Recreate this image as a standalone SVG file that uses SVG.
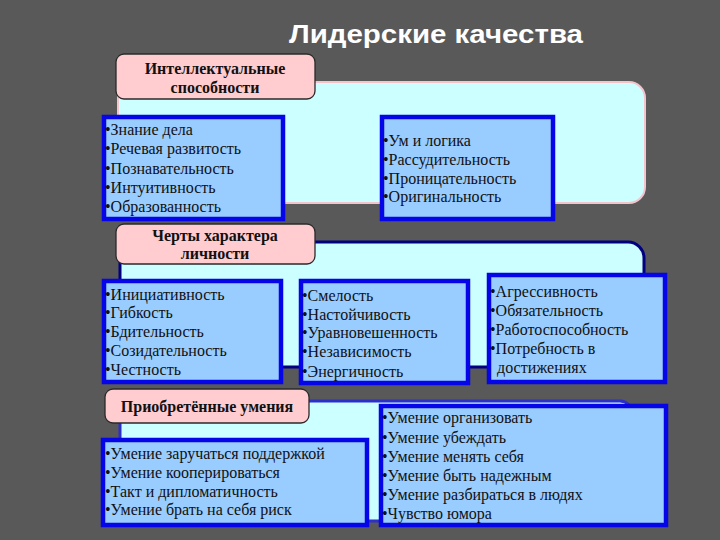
<svg xmlns="http://www.w3.org/2000/svg" width="720" height="540" viewBox="0 0 720 540">
<style>
.bg{fill:#595959}
.panel{fill:#CCFFFF}
.lbl{fill:#FFCCD0;stroke:#2a2a2a;stroke-width:1.3}
.box{fill:#99CCFF;stroke:#0505E8;stroke-width:4.5}
.lt{font-family:"Liberation Serif","Times New Roman",serif;font-weight:bold;font-size:16px;fill:#111;text-anchor:middle}
.bt{font-family:"Liberation Serif","Times New Roman",serif;font-size:16px;fill:#111}
.title{font-family:"Liberation Sans",Arial,sans-serif;font-weight:bold;font-size:26px;fill:#fff}
</style>
<rect class="bg" x="0" y="0" width="720" height="540"/>
<text class="title" x="289" y="43" textLength="294" lengthAdjust="spacingAndGlyphs">Лидерские качества</text>

<g id="section1">
  <rect class="panel" x="118" y="82" width="527" height="121" rx="16" stroke="#F2C4CC" stroke-width="2"/>
</g>
<g id="label1">
  <rect class="lbl" x="116" y="54" width="199" height="45" rx="8"/>
  <text class="lt" x="215" y="74">Интеллектуальные</text>
  <text class="lt" x="215" y="93">способности</text>
</g>
<g id="box1a">
  <rect class="box" x="104" y="117" width="179" height="102"/>
  <text class="bt" x="105" y="135">•Знание дела</text>
  <text class="bt" x="105" y="154">•Речевая развитость</text>
  <text class="bt" x="105" y="174">•Познавательность</text>
  <text class="bt" x="105" y="193">•Интуитивность</text>
  <text class="bt" x="105" y="212">•Образованность</text>
</g>
<g id="box1b">
  <rect class="box" x="382" y="117" width="171" height="102"/>
  <text class="bt" x="383" y="146">•Ум и логика</text>
  <text class="bt" x="383" y="165">•Рассудительность</text>
  <text class="bt" x="383" y="184">•Проницательность</text>
  <text class="bt" x="383" y="202">•Оригинальность</text>
</g>

<g id="section2">
  <rect class="panel" x="120" y="242" width="524" height="125" rx="16" stroke="#000080" stroke-width="3"/>
</g>
<g id="label2">
  <rect class="lbl" x="116" y="224" width="199" height="40" rx="8"/>
  <text class="lt" x="215" y="241">Черты характера</text>
  <text class="lt" x="215" y="259">личности</text>
</g>
<g id="box2a">
  <rect class="box" x="104" y="281" width="177" height="101"/>
  <text class="bt" x="105" y="300">•Инициативность</text>
  <text class="bt" x="105" y="318">•Гибкость</text>
  <text class="bt" x="105" y="337">•Бдительность</text>
  <text class="bt" x="105" y="356">•Созидательность</text>
  <text class="bt" x="105" y="375">•Честность</text>
</g>
<g id="box2b">
  <rect class="box" x="301" y="281" width="167" height="102"/>
  <text class="bt" x="302" y="301">•Смелость</text>
  <text class="bt" x="302" y="320">•Настойчивость</text>
  <text class="bt" x="302" y="338">•Уравновешенность</text>
  <text class="bt" x="302" y="357">•Независимость</text>
  <text class="bt" x="302" y="377">•Энергичность</text>
</g>
<g id="box2c">
  <rect class="box" x="489" y="275" width="176" height="107"/>
  <text class="bt" x="490" y="297">•Агрессивность</text>
  <text class="bt" x="490" y="316">•Обязательность</text>
  <text class="bt" x="490" y="335">•Работоспособность</text>
  <text class="bt" x="490" y="354">•Потребность в</text>
  <text class="bt" x="497" y="373">достижениях</text>
</g>

<g id="section3">
  <rect class="panel" x="120" y="401" width="512" height="120" rx="12" stroke="#2E2EC8" stroke-width="3"/>
</g>
<g id="label3">
  <rect class="lbl" x="105" y="389" width="204" height="34" rx="8"/>
  <text class="lt" x="207" y="412">Приобретённые умения</text>
</g>
<g id="box3a">
  <rect class="box" x="103" y="440" width="264" height="85"/>
  <text class="bt" x="105" y="459">•Умение заручаться поддержкой</text>
  <text class="bt" x="105" y="478">•Умение кооперироваться</text>
  <text class="bt" x="105" y="497">•Такт и дипломатичность</text>
  <text class="bt" x="105" y="515">•Умение брать на себя риск</text>
</g>
<g id="box3b">
  <rect class="box" x="381" y="406" width="285" height="119"/>
  <text class="bt" x="382" y="423">•Умение организовать</text>
  <text class="bt" x="382" y="443">•Умение убеждать</text>
  <text class="bt" x="382" y="462">•Умение менять себя</text>
  <text class="bt" x="382" y="481">•Умение быть надежным</text>
  <text class="bt" x="382" y="500">•Умение разбираться в людях</text>
  <text class="bt" x="382" y="519">•Чувство юмора</text>
</g>
<g id="connectors"></g>
</svg>
